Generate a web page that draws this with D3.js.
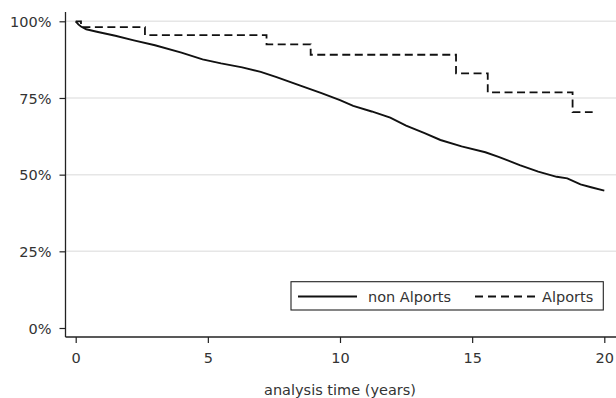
<!DOCTYPE html>
<html>
<head>
<meta charset="utf-8">
<script src="https://cdn.jsdelivr.net/npm/d3@7/dist/d3.min.js"></script>
<style>
  body { margin: 0; background: #fff; }
  svg { display: block; font-family: "DejaVu Sans", Verdana, sans-serif; }
</style>
</head>
<body>
<svg id="chart" width="616" height="398"></svg>
<script>
"use strict";

// survival estimates (years, proportion surviving)
var nonAlportsTime = [0, 0.1, 0.2, 0.4, 0.8, 1.5, 2.2, 3.0, 4.0, 4.8, 5.5, 6.3, 7.0, 7.6, 8.5,
    9.3, 10.0, 10.5, 11.2, 11.9, 12.5, 13.2, 13.8, 14.6, 15.5, 16.0, 16.8, 17.5, 18.2, 18.6,
    19.1, 19.5, 20.0];
var nonAlportsSurv = [1.000, 0.990, 0.983, 0.974, 0.966, 0.953, 0.938, 0.922, 0.898, 0.876,
    0.863, 0.850, 0.835, 0.818, 0.790, 0.766, 0.743, 0.724, 0.706, 0.686, 0.660, 0.635, 0.613,
    0.592, 0.573, 0.558, 0.531, 0.510, 0.493, 0.488, 0.468, 0.459, 0.448];

var alportsTime = [0, 0.2, 2.62, 7.22, 8.89, 14.39, 15.59, 18.8, 19.56];
var alportsSurv = [1.000, 0.981, 0.955, 0.925, 0.891, 0.830, 0.768, 0.704, 0.704];

var xTicks = [0, 5, 10, 15, 20];
var yTicks = [0, 0.25, 0.5, 0.75, 1];
var gridTicks = [0.25, 0.5, 0.75, 1];
var seriesNames = ["non Alports", "Alports"];
var xTitle = "analysis time (years)";

var svg = d3.select("#chart");
var width = +svg.attr("width");

var x = d3.scaleLinear().domain([0, 20]).range([75.7, 604.3]);
var y = d3.scaleLinear().domain([0, 1]).range([328, 21.3]);

var axisX = 65.5, axisY = 337;
var textColor = "#333";
var fontSize = "14.5px";

// grid lines
svg.append("g")
    .selectAll("line")
    .data(gridTicks)
    .enter()
    .append("line")
    .attr("x1", axisX)
    .attr("x2", width)
    .attr("y1", function (d) { return y(d); })
    .attr("y2", function (d) { return y(d); })
    .attr("stroke", "#e6e6e6")
    .attr("stroke-width", 1.5);

// axes, drawn with d3 and the domain line added by hand (it runs past the range)
var gy = svg.append("g")
    .attr("transform", "translate(" + axisX + ",0)")
    .call(d3.axisLeft(y).tickValues(yTicks).tickFormat(d3.format(".0%")).tickSize(6).tickPadding(8));
var gx = svg.append("g")
    .attr("transform", "translate(0," + axisY + ")")
    .call(d3.axisBottom(x).tickValues(xTicks).tickSize(6).tickPadding(7));

[gx, gy].forEach(function (g) {
    g.select(".domain").remove();
    g.selectAll(".tick line").attr("stroke", "#222").attr("stroke-width", 1.2);
    g.selectAll(".tick text")
        .attr("fill", textColor)
        .style("font-size", fontSize)
        .style("font-family", "DejaVu Sans, Verdana, sans-serif");
});
gy.selectAll(".tick text").attr("dy", "0.36em");
gx.selectAll(".tick text").attr("dy", "0.9em");

svg.append("line")
    .attr("x1", axisX).attr("x2", axisX)
    .attr("y1", 12).attr("y2", axisY)
    .attr("stroke", "#222").attr("stroke-width", 1.3);
svg.append("line")
    .attr("x1", axisX).attr("x2", width)
    .attr("y1", axisY).attr("y2", axisY)
    .attr("stroke", "#222").attr("stroke-width", 1.3);

svg.append("text")
    .attr("x", 340)
    .attr("y", 395)
    .attr("text-anchor", "middle")
    .attr("fill", textColor)
    .style("font-size", fontSize)
    .text(xTitle);

// curves
var line = d3.line()
    .x(function (d) { return x(d[0]); })
    .y(function (d) { return y(d[1]); });

svg.append("path")
    .datum(d3.zip(nonAlportsTime, nonAlportsSurv))
    .attr("d", line.curve(d3.curveLinear))
    .attr("fill", "none")
    .attr("stroke", "#111")
    .attr("stroke-width", 1.9);

svg.append("path")
    .datum(d3.zip(alportsTime, alportsSurv))
    .attr("d", line.curve(d3.curveStepAfter))
    .attr("fill", "none")
    .attr("stroke", "#111")
    .attr("stroke-width", 1.8)
    .attr("stroke-dasharray", "8,4.5");

// legend
var legend = svg.append("g");
legend.append("rect")
    .attr("x", 291).attr("y", 281.7)
    .attr("width", 312.3).attr("height", 28.3)
    .attr("fill", "#fff")
    .attr("stroke", "#222")
    .attr("stroke-width", 1.1);

var legendItems = [
    { name: seriesNames[0], x1: 298, x2: 357, tx: 368, dash: null },
    { name: seriesNames[1], x1: 475, x2: 535, tx: 542, dash: "8,5" }
];
legendItems.forEach(function (d) {
    legend.append("line")
        .attr("x1", d.x1).attr("x2", d.x2)
        .attr("y1", 296.5).attr("y2", 296.5)
        .attr("stroke", "#111")
        .attr("stroke-width", 1.8)
        .attr("stroke-dasharray", d.dash);
    legend.append("text")
        .attr("x", d.tx)
        .attr("y", 301.5)
        .attr("fill", textColor)
        .style("font-size", fontSize)
        .text(d.name);
});
</script>
</body>
</html>
